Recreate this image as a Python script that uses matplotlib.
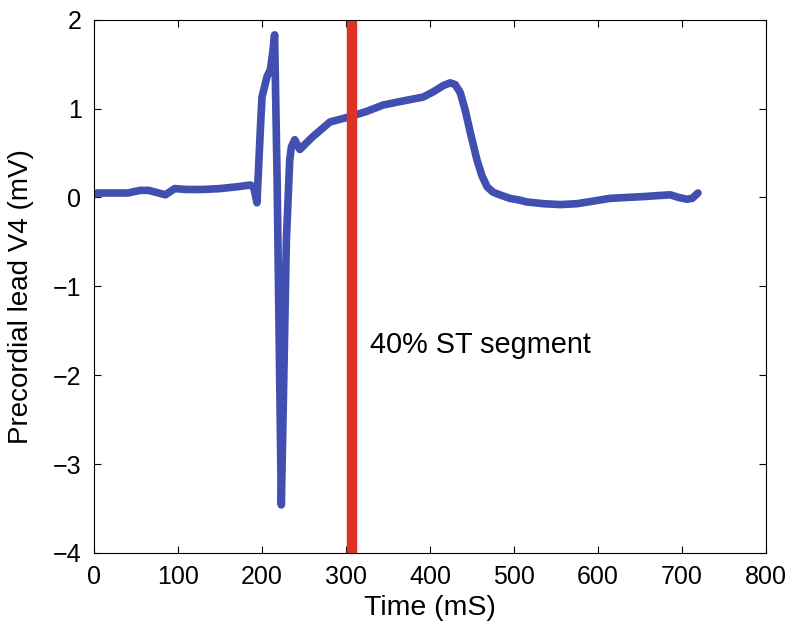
import matplotlib
matplotlib.use('Agg')
import matplotlib.pyplot as plt
import numpy as np

plt.rcParams['font.family'] = ['Liberation Sans', 'DejaVu Sans']

# ECG trace, precordial lead V4
time_ms = [0, 4, 20, 40, 55, 65, 73, 85, 96, 110, 130, 150, 170, 186, 190,
           194, 198, 200, 206, 210, 213, 215, 218, 223, 226, 229, 233, 235,
           239, 245, 260, 281, 305, 325, 344, 370, 392, 404, 416, 424, 430,
           436, 442, 448, 456, 462, 468, 475, 483, 495, 507, 515, 535, 555,
           575, 595, 614, 634, 654, 670, 686, 696, 706, 712, 719]
v4_mv = [0.03, 0.05, 0.05, 0.05, 0.08, 0.08, 0.06, 0.03, 0.1, 0.09, 0.09,
         0.1, 0.12, 0.14, 0.12, -0.06, 0.76, 1.13, 1.36, 1.44, 1.65, 1.83,
         0.2, -3.46, -2.0, -0.48, 0.42, 0.57, 0.65, 0.54, 0.68, 0.85, 0.91,
         0.97, 1.04, 1.09, 1.13, 1.19, 1.26, 1.29, 1.27, 1.18, 0.98, 0.73,
         0.42, 0.24, 0.12, 0.06, 0.03, -0.01, -0.03, -0.05, -0.07, -0.08,
         -0.07, -0.04, -0.01, 0.0, 0.01, 0.02, 0.03, 0.0, -0.02, -0.01, 0.05]

st_marker_ms = 307
st_label = '40% ST segment'

fig = plt.figure(figsize=(8, 6.37), dpi=100)
ax = fig.add_axes([0.1175, 0.132, 0.84, 0.837])

ax.plot(time_ms, v4_mv, color='#4150b0', lw=5.5, solid_joinstyle='round',
        solid_capstyle='round')
ax.axvline(st_marker_ms, color='#dc3322', lw=7.5)
ax.text(328, -1.66, st_label, fontsize=20.8, va='center', ha='left')

ax.set_xlim(0, 800)
ax.set_ylim(-4, 2)
ax.set_xticks(np.arange(0, 801, 100))
ax.set_yticks(np.arange(-4, 3, 1))
ax.set_yticklabels(['\u22124', '\u22123', '\u22122', '\u22121', '0', '1', '2'])
ax.tick_params(direction='in', top=True, right=True, labelsize=18, length=5)
ax.tick_params(axis='x', pad=9)
ax.tick_params(axis='y', pad=9)
ax.set_xlabel('Time (mS)', fontsize=20.5, labelpad=4)
ax.set_ylabel('Precordial lead V4 (mV)', fontsize=20)
ax.yaxis.set_label_coords(-0.09, 0.48)

fig.savefig('out.png', dpi=100)
